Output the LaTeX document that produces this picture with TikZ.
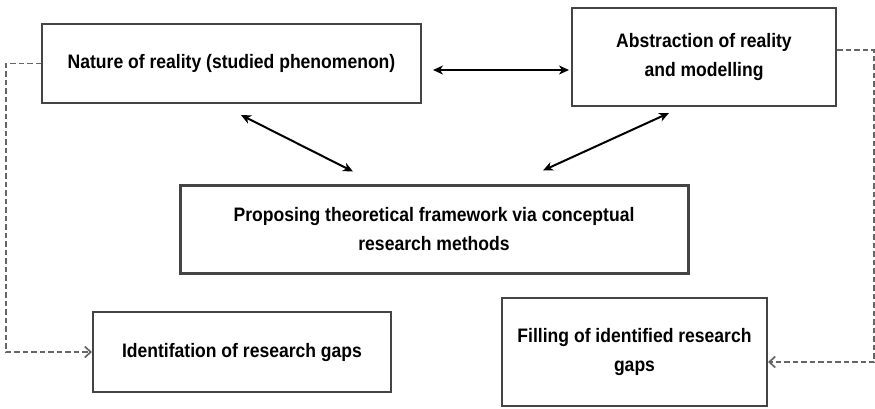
\documentclass[tikz,border=0pt]{standalone}
\usepackage{fontspec}
\setmainfont{Liberation Sans}[FakeStretch=0.9]
\usetikzlibrary{arrows.meta,calc}

\definecolor{boxline}{HTML}{444444}
\definecolor{dashline}{HTML}{666666}

\tikzset{
  box/.style={draw=boxline, line width=2pt, fill=white, align=center,
    inner sep=0pt, font=\bfseries\fontsize{19.5}{28.5}\selectfont},
  thickbox/.style={box, line width=3pt},
  link/.style={black, line width=2pt,
    {Stealth[length=10pt,width=9pt,inset=3pt]}-{Stealth[length=10pt,width=9pt,inset=3pt]}},
  feedback/.style={dashline, line width=1.7pt, dash pattern=on 5.5pt off 3pt,
    -{Straight Barb[length=6pt,width=11pt,line width=1.7pt]}}
}

\begin{document}
\begin{tikzpicture}[x=1pt,y=-1pt]
  \useasboundingbox (0,0) rectangle (875,408);

  % boxes
  \node[box, minimum width=379pt, minimum height=79pt] (b1) at (231.5,63.5)
    {Nature of reality (studied phenomenon)};
  \node[box, minimum width=264pt, minimum height=98pt] (b2) at (704,57)
    {Abstraction of reality\\and modelling};
  \node[thickbox, minimum width=508pt, minimum height=88pt] (b3) at (434,229)
    {Proposing theoretical framework via conceptual\\research methods};
  \node[box, minimum width=298pt, minimum height=80pt] (b4) at (242,352)
    {Identifation of research gaps};
  \node[box, minimum width=265pt, minimum height=108pt] (b5) at (634.5,352)
    {Filling of identified research\\gaps};

  % two-way links
  \draw[link] ($(b1.east)+(11,6.5)$) -- ($(b2.west)+(-2,13)$);
  \draw[link] ($(b1.south)+(9.5,11)$) -- ($(b3.north)+(-81,-12)$);
  \draw[link] ($(b2.south)+(-35,6)$) -- ($(b3.north)+(109,-13)$);

  % dashed feedback paths
  \draw[feedback] (b1.west) -- ++(-35,0) |- (b4.west);
  \draw[feedback] ($(b2.east)+(0,-7)$) -- ++(37,0) |- ($(b5.east)+(0,10)$);
\end{tikzpicture}
\end{document}
